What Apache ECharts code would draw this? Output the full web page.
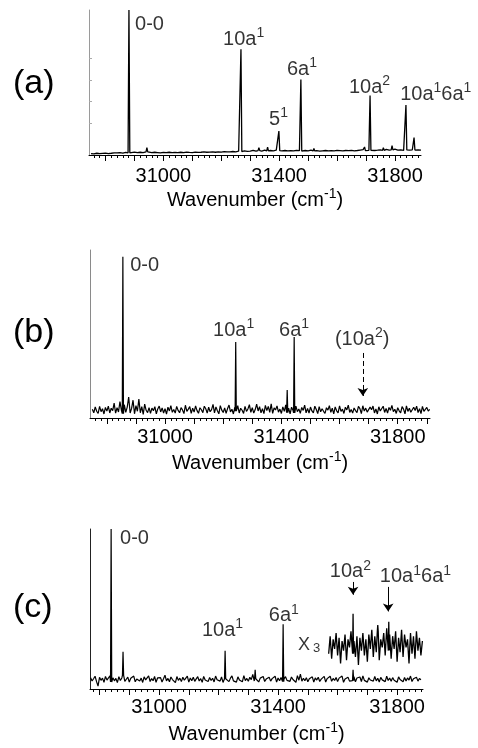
<!DOCTYPE html>
<html>
<head>
<meta charset="utf-8">
<script src="https://cdn.jsdelivr.net/npm/echarts@6/dist/echarts.min.js"></script>
<style>
html, body { margin: 0; padding: 0; background: #fff; }
#chart { width: 478px; height: 748px; }
</style>
</head>
<body>
<div id="chart"></div>
<script>
const FONT = '"Liberation Sans", Arial, sans-serif';

// tick labels shared by the three panels (cm-1)
const tickLabels = [31000, 31400, 31800];

// MARK: - Panel (a)
const rangeA = [30743, 31890];
const noiseStartA = 30750; // baseline read every 10 cm-1
const noiseA = [
    1.0, 0.8, 1.2, 0.9, 1.1, 1.3, 1.0, 1.2, 1.5, 1.4,
    1.6, 1.3, 1.8, 1.5, 1.7, 2.0, 1.6, 1.9, 1.7, 2.2,
    1.8, 1.6, 1.9, 1.7, 1.5, 1.8, 1.6, 1.9, 1.7, 1.8,
    1.6, 1.9, 1.7, 2.0, 1.8, 1.7, 2.0, 1.8, 1.9, 2.1,
    1.9, 2.0, 2.2, 1.9, 2.1, 2.0, 2.3, 2.1, 2.2, 2.4,
    2.2, 2.6, 2.4, 2.8, 2.5, 2.7, 3.2, 2.6, 3.0, 2.7,
    3.3, 2.8, 3.1, 2.9, 3.4, 3.0, 2.8, 3.1, 2.9, 3.0,
    2.8, 3.2, 3.0, 2.7, 3.1, 2.9, 3.3, 2.8, 3.0, 2.7,
    2.9, 3.1, 2.8, 3.0, 2.9, 3.2, 3.0, 2.8, 3.1, 3.0,
    3.2, 2.9, 3.1, 3.4, 3.7, 3.0, 3.2, 3.5, 3.1, 3.3,
    3.6, 3.2, 3.9, 3.3, 3.5, 4.0, 3.4, 3.6, 3.2, 3.5,
    3.3, 3.6, 3.4, 3.5, 3.3
];
const peaksA = [
    [30881, 100], [30943, 5], [31268, 73], [31330, 5], [31360, 5.5],
    [31399, 16.5], [31475, 52], [31520, 4.5], [31695, 5.5], [31714, 41],
    [31760, 5], [31790, 6.5], [31838, 34.5], [31866, 12]
];
const labelsA = [
    [30902, 89.7, '0-0'],
    [31206, 80, '10a{s|1}'],
    [31365, 24.8, '5{s|1}'],
    [31427, 59.3, '6a{s|1}'],
    [31641, 46.6, '10a{s|2}'],
    [31818, 42, '10a{s|1}6a{s|1}']
];

// MARK: - Panel (b)
const rangeB = [30742, 31911];
const noiseStartB = 30750; // read every 5 cm-1
const noiseB = [
    5.2, 3.1, 6.6, 4.0, 2.7, 6.9, 3.8, 5.5, 2.4, 6.3,
    4.1, 7.0, 3.0, 5.8, 4.4, 8.9, 2.9, 6.1, 3.6, 9.8,
    4.5, 2.6, 7.9, 3.3, 6.5, 12.4, 3.0, 5.7, 10.6, 2.5,
    7.4, 4.0, 11.2, 3.1, 6.8, 2.2, 8.3, 4.6, 3.2, 6.2,
    2.8, 5.9, 4.3, 6.7, 2.5, 5.4, 7.1, 3.6, 6.0, 3.0,
    5.6, 2.3, 6.4, 4.2, 7.3, 3.4, 5.1, 2.9, 6.9, 4.5,
    3.1, 6.2, 4.8, 2.6, 7.6, 3.9, 5.3, 6.8, 2.7, 5.9,
    3.5, 7.2, 4.4, 2.8, 6.1, 4.9, 3.2, 7.0, 5.5, 2.9,
    6.4, 3.7, 5.0, 8.1, 3.0, 6.6, 4.3, 2.5, 7.4, 4.7,
    3.3, 6.0, 2.8, 5.6, 7.7, 3.6, 5.2, 2.4, 6.5, 4.1,
    7.3, 3.0, 5.8, 4.6, 2.7, 6.9, 3.9, 5.4, 7.9, 3.4,
    6.2, 2.9, 5.0, 8.2, 4.2, 6.7, 3.1, 5.6, 2.6, 7.5,
    4.4, 6.9, 3.3, 8.4, 2.8, 6.0, 4.8, 7.2, 3.5, 5.3,
    2.7, 6.6, 4.0, 7.8, 3.2, 5.9, 2.5, 6.4, 4.6, 3.0,
    7.1, 3.8, 5.4, 2.8, 6.3, 4.5, 7.6, 3.1, 5.7, 2.9,
    6.5, 4.2, 3.0, 7.0, 5.1, 2.6, 6.8, 3.7, 5.5, 4.0,
    2.8, 6.1, 4.7, 7.4, 3.4, 5.8, 2.5, 6.6, 4.3, 3.1,
    7.2, 3.9, 5.3, 2.7, 6.4, 4.8, 7.7, 3.3, 5.0, 2.9,
    6.0, 4.4, 3.2, 6.9, 5.6, 2.6, 7.3, 4.1, 5.9, 3.5,
    2.8, 6.5, 4.9, 7.1, 3.0, 5.4, 2.4, 6.7, 4.2, 3.6,
    7.0, 3.3, 5.7, 2.9, 6.3, 4.6, 7.5, 3.8, 5.2, 2.7,
    6.1, 4.3, 3.1, 6.8, 5.3, 2.5, 7.2, 3.9, 5.8, 3.4,
    2.9, 6.4, 4.5, 7.0, 3.2, 5.6, 2.6, 6.9, 4.0, 3.7,
    6.3, 4.1, 5.2
];
const peaksB = [[30855, 96], [31243, 45.2], [31420, 16.7], [31444, 48.2]];
const labelsB = [
    [30880, 91, '0-0'],
    [31165, 52, '10a{s|1}'],
    [31392, 52, '6a{s|1}'],
    [31584, 47, '(10a{s|2})']
];
const arrowsB = [[31680, 38.7, 13.1]]; // wavenumber, from, to

// MARK: - Panel (c)
const rangeC = [30768, 31887];
const noiseStartC = 30770; // read every 5 cm-1
const noiseC = [
    7.1, 5.0, 6.4, 8.0, 4.6, 1.8, 7.3, 5.4, 6.8, 4.2,
    7.9, 5.6, 6.2, 8.3, 4.4, 7.0, 5.1, 6.6, 4.0, 7.7,
    5.3, 6.9, 8.5, 4.8, 6.1, 7.4, 4.3, 6.7, 5.5, 8.1,
    4.5, 6.3, 7.2, 5.0, 6.8, 4.1, 7.6, 5.7, 6.0, 8.2,
    4.7, 6.5, 5.2, 7.8, 4.2, 6.9, 5.8, 7.1, 4.4, 6.4,
    8.6, 5.1, 6.6, 4.5, 7.5, 5.9, 6.2, 4.0, 7.8, 5.4,
    6.8, 4.6, 7.3, 5.5, 6.0, 8.0, 4.3, 6.9, 5.2, 7.4,
    4.8, 6.3, 7.7, 5.0, 6.5, 4.2, 7.9, 5.6, 6.1, 4.7,
    7.2, 5.3, 6.7, 4.4, 8.1, 5.8, 6.2, 4.9, 7.5, 4.1,
    6.4, 5.5, 7.0, 4.6, 6.8, 8.2, 5.1, 6.3, 4.3, 7.6,
    5.7, 6.9, 4.5, 8.4, 5.2, 6.6, 4.8, 7.3, 5.9, 9.1,
    5.0, 6.4, 7.1, 4.4, 6.8, 5.6, 7.8, 4.7, 6.2, 5.3,
    7.4, 4.9, 6.5, 5.7, 8.0, 4.3, 6.9, 5.1, 7.2, 4.6,
    6.3, 7.7, 5.4, 6.1, 4.8, 7.5, 5.9, 6.6, 4.2, 8.3,
    5.5, 9.3, 4.9, 6.7, 5.2, 7.1, 4.5, 6.4, 5.8, 7.6,
    4.4, 6.9, 5.6, 7.3, 4.7, 6.2, 5.0, 7.9, 4.3, 6.5,
    5.9, 8.0, 4.8, 6.6, 5.3, 7.2, 4.6, 6.8, 5.7, 8.1,
    4.2, 6.3, 5.5, 7.4, 4.9, 6.1, 5.2, 7.7, 4.5, 6.9,
    5.8, 7.5, 4.7, 8.2, 5.4, 6.4, 4.3, 7.0, 5.6, 6.2,
    4.9, 7.8, 5.1, 6.7, 4.4, 7.3, 5.7, 6.0, 4.6, 8.0,
    5.3, 6.8, 4.8, 7.1, 5.5, 6.3, 4.2, 7.6, 5.9, 6.5,
    4.5, 7.2, 5.0, 6.9, 5.6, 8.1, 4.7, 6.4, 5.2, 7.4,
    4.9, 6.6, 5.8
];
const peaksC = [[30839, 100], [30879, 23.3], [31222, 23.9], [31323, 12], [31417, 40.5], [31652, 12]];
// x3 magnified segment
const insetStartC = 31570; // read every 5 cm-1
const insetC = [
    22, 33, 19, 31, 25, 35, 21, 32, 16, 30,
    24, 34, 18, 31, 26, 36, 22, 30, 20, 33,
    15, 32, 24, 35, 21, 31, 17, 34, 25, 37,
    20, 33, 23, 36, 18, 31, 26, 35, 21, 38,
    24, 34, 19, 33, 25, 36, 17, 32, 23, 37,
    20, 34, 26, 31, 16, 35, 22, 33, 19, 36,
    24, 32, 21, 30
];
const insetPeaksC = [[31652, 47], [31735, 40], [31772, 42]];
const labelsC = [
    [30869, 94.2, '0-0'],
    [31144, 36.5, '10a{s|1}'],
    [31369, 45.7, '6a{s|1}'],
    [31574, 73.3, '10a{s|2}'],
    [31742, 70.2, '10a{s|1}6a{s|1}']
];
const scaleLabelC = [[31467, 27.6, 'X{t|3}']];
const arrowsC = [[31652, 66.9, 58.9], [31770, 63.8, 48.5]];


// MARK: - Helpers

function buildTrace(start, step, noise, peaks, halfWidth) {
    let pts = [];
    noise.forEach((v, i) => {
        let x = start + i * step;
        let nearPeak = peaks.some(p => Math.abs(p[0] - x) < halfWidth + 1);
        if (!nearPeak) pts.push([x, v]);
    });
    peaks.forEach(([wn, h]) => {
        let i = Math.round((wn - start) / step);
        i = Math.max(0, Math.min(noise.length - 1, i));
        let base = noise[i];
        pts.push([wn - halfWidth, base], [wn, h], [wn + halfWidth, base]);
    });
    pts.sort((p, q) => p[0] - q[0]);
    return pts;
}

function tickValues(range, step) {
    let out = [];
    for (let v = Math.ceil(range[0] / step) * step; v <= range[1]; v += step) out.push(v);
    return out;
}

const supStyle = {fontSize: 14, lineHeight: 14, verticalAlign: 'top', fontFamily: FONT, color: '#000'};

function labelSeries(idx, labels, arrows, dashed) {
    let s = {
        type: 'scatter',
        xAxisIndex: idx * 2,
        yAxisIndex: idx,
        symbolSize: 0,
        silent: true,
        data: labels.map(l => ({value: [l[0], l[1]], name: l[2]})),
        label: {
            show: true,
            position: 'right',
            distance: 0,
            formatter: p => p.name,
            fontFamily: FONT,
            fontSize: 20,
            lineHeight: 26,
            color: '#000',
            rich: {s: supStyle}
        }
    };
    if (arrows) {
        s.markLine = {
            silent: true,
            symbol: ['none', 'arrow'],
            symbolSize: 8,
            label: {show: false},
            lineStyle: {color: '#000', width: 1, type: dashed ? [5, 3] : 'solid'},
            emphasis: {disabled: true},
            data: arrows.map(a => [{coord: [a[0], a[1]]}, {coord: [a[0], a[2]]}])
        };
    }
    return s;
}

function traceSeries(idx, data, width) {
    return {
        type: 'line',
        xAxisIndex: idx * 2,
        yAxisIndex: idx,
        data: data,
        symbol: 'none',
        silent: true,
        lineStyle: {color: '#000', width: width}
    };
}

// MARK: - Layout

const panels = [
    {range: rangeA, grid: {left: 89, width: 332, top: 10, height: 145}, labelMargin: 11, yColor: '#9a9a9a'},
    {range: rangeB, grid: {left: 90, width: 340, top: 250, height: 168}, labelMargin: 9, yColor: '#8a8a8a'},
    {range: rangeC, grid: {left: 90, width: 333, top: 529, height: 163}, labelMargin: 8, yColor: '#222'}
];

let xAxes = [];
let yAxes = [];
panels.forEach((p, i) => {
    xAxes.push({
        type: 'value', gridIndex: i, min: p.range[0], max: p.range[1], position: 'bottom',
        axisLine: {show: true, onZero: false, lineStyle: {color: '#000', width: 1}},
        axisTick: {show: true, length: 6, customValues: tickValues(p.range, 100), lineStyle: {color: '#000'}},
        axisLabel: {show: true, customValues: tickLabels, margin: p.labelMargin, fontSize: 20,
            lineHeight: 20, color: '#000', fontFamily: FONT, formatter: v => String(v)},
        splitLine: {show: false},
        name: 'Wavenumber (cm{s|-1})',
        nameLocation: 'middle',
        nameGap: 32,
        nameTextStyle: {fontSize: 20, lineHeight: 26, color: '#000', fontFamily: FONT, rich: {s: supStyle}}
    });
    xAxes.push({
        type: 'value', gridIndex: i, min: p.range[0], max: p.range[1], position: 'bottom',
        axisLine: {show: false},
        axisTick: {show: true, length: 3, customValues: tickValues(p.range, 20), lineStyle: {color: '#000'}},
        axisLabel: {show: false},
        splitLine: {show: false}
    });
    yAxes.push({
        type: 'value', gridIndex: i, min: 0, max: 100,
        axisLine: {show: true, onZero: false, lineStyle: {color: p.yColor, width: 1}},
        axisTick: i === 0
            ? {show: true, inside: true, length: 3, customValues: [21.8, 36.8, 51.7, 66.7], lineStyle: {color: '#aaa'}}
            : {show: false},
        axisLabel: {show: false},
        splitLine: {show: false}
    });
});

const panelTitle = (text, top) => ({
    text: text, left: 13, top: top, padding: 0,
    textStyle: {fontSize: 34, fontWeight: 'normal', fontFamily: FONT, color: '#000'}
});

let chart = echarts.init(document.getElementById('chart'));
chart.setOption({
    animation: false,
    backgroundColor: '#fff',
    title: [panelTitle('(a)', 67), panelTitle('(b)', 316), panelTitle('(c)', 591)],
    grid: panels.map(p => p.grid),
    xAxis: xAxes,
    yAxis: yAxes,
    series: [
        traceSeries(0, buildTrace(noiseStartA, 10, noiseA, peaksA, 3), 1.3),
        labelSeries(0, labelsA),
        traceSeries(1, buildTrace(noiseStartB, 5, noiseB, peaksB, 2), 1.2),
        labelSeries(1, labelsB, arrowsB, true),
        traceSeries(2, buildTrace(noiseStartC, 5, noiseC, peaksC, 2), 1.2),
        traceSeries(2, buildTrace(insetStartC, 5, insetC, insetPeaksC, 1.5), 1.3),
        labelSeries(2, labelsC, arrowsC, false),
        {
            type: 'scatter', xAxisIndex: 4, yAxisIndex: 2, symbolSize: 0, silent: true,
            data: scaleLabelC.map(l => ({value: [l[0], l[1]], name: l[2]})),
            label: {
                show: true, position: 'right', distance: 0, formatter: p => p.name,
                fontFamily: FONT, fontSize: 18, lineHeight: 20, color: '#000',
                rich: {t: {fontSize: 13, lineHeight: 16, verticalAlign: 'bottom', padding: [0, 0, 0, 3],
                    fontFamily: FONT, color: '#000'}}
            }
        }
    ]
});
</script>
</body>
</html>
